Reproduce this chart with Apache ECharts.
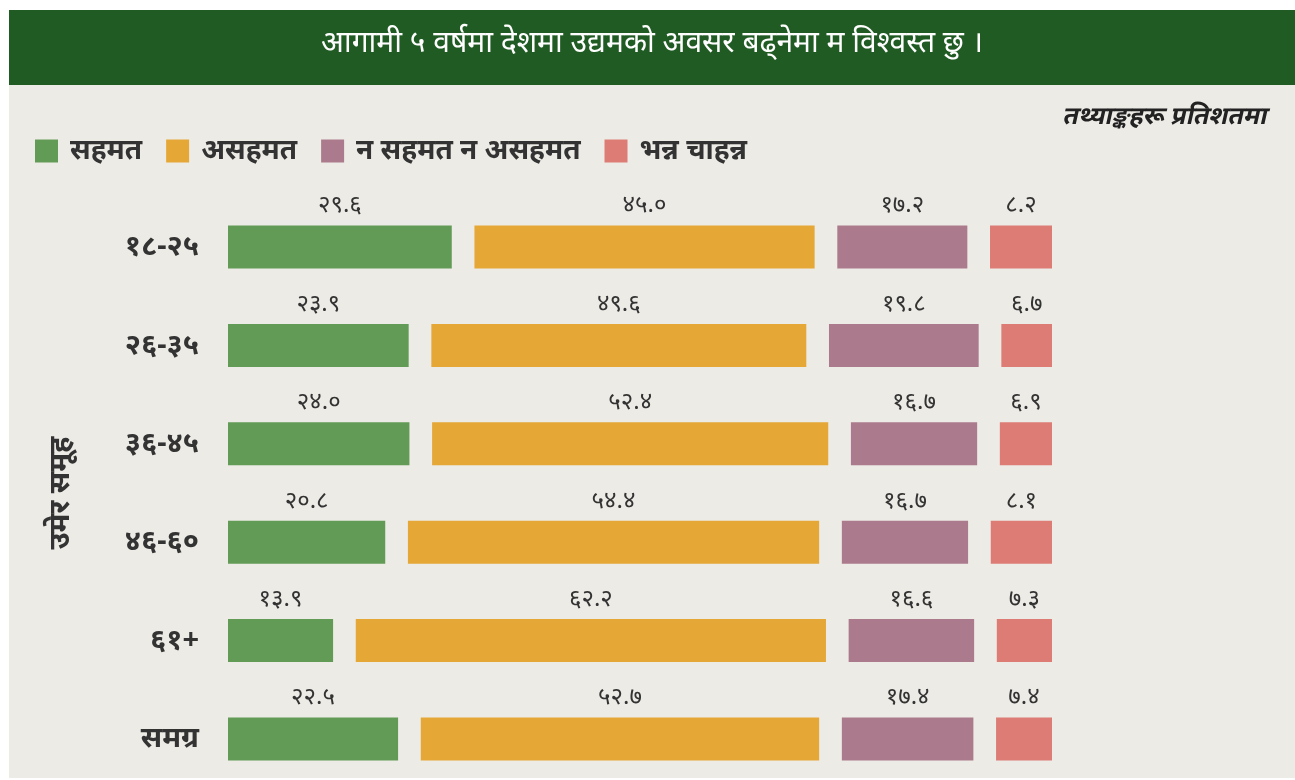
<!DOCTYPE html>
<html>
<head>
<meta charset="utf-8">
<script src="https://cdn.jsdelivr.net/npm/echarts@6/dist/echarts.min.js"></script>
<style>
  html, body { margin: 0; padding: 0; background: #ffffff; }
  #chart { position: absolute; left: 9px; top: 10px; width: 1286px; height: 768px; }
</style>
</head>
<body>
<div id="chart"></div>
<script>
// Age groups (top to bottom)
const ageGroups = ['१८-२५', '२६-३५', '३६-४५', '४६-६०', '६१+', 'समग्र'];

// Response shares, in percent
const agree        = [29.6, 23.9, 24.0, 20.8, 13.9, 22.5];
const disagree     = [45.0, 49.6, 52.4, 54.4, 62.2, 52.7];
const neither      = [17.2, 19.8, 16.7, 16.7, 16.6, 17.4];
const noAnswer     = [8.2, 6.7, 6.9, 8.1, 7.3, 7.4];

const seriesNames = ['सहमत', 'असहमत', 'न सहमत न असहमत', 'भन्न चाहन्न'];
const titleText = 'आगामी ५ वर्षमा देशमा उद्यमको अवसर बढ्नेमा म विश्वस्त छु ।';
const noteText = 'तथ्याङ्कहरू प्रतिशतमा';
const axisName = 'उमेर समूह';

const colors = ['#629b55', '#e5a736', '#ab7a8c', '#dd7c75'];
const GAP = 3; // blank space between segments, in axis units
const FONT = '"Noto Sans", "Noto Sans Devanagari", sans-serif';

const devDigits = ['०','१','२','३','४','५','६','७','८','९'];
function toDev(v) {
  return v.toFixed(1).replace(/[0-9]/g, d => devDigits[+d]);
}

function valueSeries(name, data, color) {
  return {
    name: name,
    type: 'bar',
    stack: 'total',
    barWidth: 43,
    data: data,
    itemStyle: { color: color },
    label: {
      show: true,
      position: 'top',
      distance: 8,
      fontFamily: FONT,
      fontSize: 24,
      color: '#333333',
      formatter: p => toDev(p.value)
    },
    emphasis: { disabled: true }
  };
}

function spacer() {
  return {
    type: 'bar',
    stack: 'total',
    barWidth: 43,
    silent: true,
    data: ageGroups.map(() => GAP),
    itemStyle: { color: 'rgba(0,0,0,0)' },
    label: { show: false },
    emphasis: { disabled: true },
    tooltip: { show: false }
  };
}

const chart = echarts.init(document.getElementById('chart'));
chart.setOption({
  backgroundColor: '#edebe6',
  animation: false,
  graphic: [
    {
      type: 'rect',
      left: 0, top: 0,
      shape: { width: 1286, height: 75 },
      style: { fill: '#215b24' },
      z: 0
    }
  ],
  title: {
    text: titleText,
    left: 'center',
    top: 13,
    textStyle: {
      color: '#ffffff',
      fontFamily: FONT,
      fontSize: 30,
      fontWeight: 'normal'
    },
    z: 10
  },
  legend: {
    data: seriesNames,
    left: 26,
    top: 127,
    padding: 0,
    itemWidth: 23,
    itemHeight: 23,
    itemGap: 24,
    icon: 'rect',
    selectedMode: false,
    textStyle: {
      fontFamily: FONT,
      fontSize: 28,
      fontWeight: 'bold',
      color: '#333333',
      padding: [0, 0, 0, 7]
    }
  },
  grid: {
    left: 219,
    right: 243,
    top: 237,
    bottom: 39,
    containLabel: false
  },
  xAxis: {
    type: 'value',
    min: 0,
    max: 100 + 3 * GAP,
    show: false
  },
  yAxis: {
    type: 'category',
    data: ageGroups,
    inverse: true,
    boundaryGap: false,
    axisLine: { show: false },
    axisTick: { show: false },
    splitLine: { show: false },
    axisLabel: {
      margin: 29,
      fontFamily: FONT,
      fontSize: 29,
      fontWeight: 'bold',
      color: '#333333'
    },
    name: axisName,
    nameLocation: 'middle',
    nameRotate: 90,
    nameGap: 153,
    nameTextStyle: {
      fontFamily: FONT,
      fontSize: 29,
      fontWeight: 'bold',
      color: '#333333'
    }
  },
  series: [
    valueSeries(seriesNames[0], agree, colors[0]),
    spacer(),
    valueSeries(seriesNames[1], disagree, colors[1]),
    spacer(),
    valueSeries(seriesNames[2], neither, colors[2]),
    spacer(),
    valueSeries(seriesNames[3], noAnswer, colors[3])
  ]
});

// Slanted note in the top-right corner (sheared so it reads as italic)
const noteGroup = new echarts.graphic.Group({ x: 1259, y: 107 });
noteGroup.add(new echarts.graphic.Text({
  skewX: -0.22,
  style: {
    text: noteText,
    font: 'bold 25px ' + FONT,
    fill: '#222222',
    align: 'right',
    verticalAlign: 'middle'
  }
}));
chart.getZr().add(noteGroup);
</script>
</body>
</html>
